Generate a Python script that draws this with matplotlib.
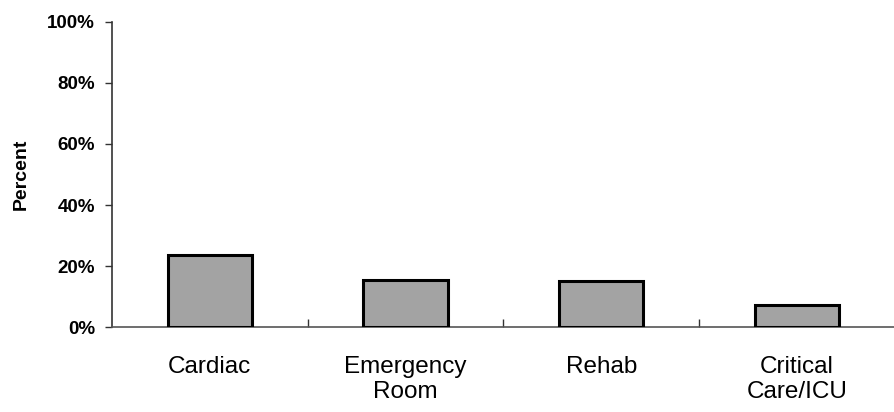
import matplotlib
matplotlib.use("Agg")
import matplotlib.pyplot as plt
from matplotlib.ticker import FuncFormatter, MultipleLocator

categories = ["Cardiac", "Emergency\nRoom", "Rehab", "Critical\nCare/ICU"]
percent = [23.5, 15.5, 15.1, 7.4]

plt.rcParams["font.family"] = ["Liberation Sans", "DejaVu Sans"]

fig = plt.figure(figsize=(8.95, 4.12), dpi=100)
ax = fig.add_axes([0.125, 0.206, 0.875, 0.741])

x = list(range(len(categories)))
ax.bar(x, percent, width=0.43, color="#a3a3a3", edgecolor="black", linewidth=2.2, zorder=3)

ax.set_xlim(-0.5, len(categories) - 0.5)
ax.set_ylim(0, 100)
ax.yaxis.set_major_locator(MultipleLocator(20))
ax.yaxis.set_major_formatter(FuncFormatter(lambda v, _: f"{v:.0f}%"))

for side in ("top", "right"):
    ax.spines[side].set_visible(False)
ax.spines["left"].set_color("#333333")
ax.spines["left"].set_linewidth(1.2)
ax.spines["bottom"].set_color("#555555")
ax.spines["bottom"].set_linewidth(1.2)

ax.tick_params(axis="y", direction="out", length=5, width=1, color="#333333",
               labelsize=13.5, pad=7)
for lbl in ax.get_yticklabels():
    lbl.set_fontweight("bold")

# category separators drawn as inward ticks between groups
ax.set_xticks([i + 0.5 for i in x[:-1]])
ax.set_xticks(x, minor=True)
ax.set_xticklabels([])
ax.set_xticklabels(categories, minor=True, fontsize=17.5, linespacing=1.13)
ax.tick_params(axis="x", which="major", direction="in", length=6, width=1, color="#333333")
ax.tick_params(axis="x", which="minor", length=0, pad=21)

ax.set_ylabel("Percent", fontsize=14, fontweight="bold", labelpad=13)

fig.savefig("out.png", dpi=100, facecolor="white")
